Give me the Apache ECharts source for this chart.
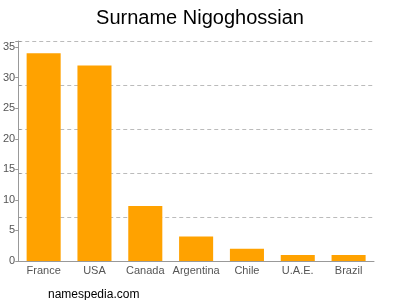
<!DOCTYPE html>
<html><head><meta charset="utf-8">
<script src="https://cdn.jsdelivr.net/npm/echarts@6/dist/echarts.min.js"></script>
<style>html,body{margin:0;padding:0;background:#fff}#c{width:400px;height:300px}</style>
</head><body><div id="c"></div>
<script>
const categories = ["France","USA","Canada","Argentina","Chile","U.A.E.","Brazil"];
const counts = [34,32,9,4,2,1,1];
const titleText = "Surname Nigoghossian";
const footerText = "namespedia.com";

const chart = echarts.init(document.getElementById('c'), null, {renderer:'canvas'});
chart.setOption({
  animation:false,
  title:[
    {text:titleText,left:'center',top:3,textStyle:{fontFamily:'Liberation Sans, Arial',fontSize:20,fontWeight:'normal',color:'#000'}},
    {text:footerText,left:43,top:284,textStyle:{fontFamily:'Liberation Sans, Arial',fontSize:12,fontWeight:'normal',color:'#000'}}
  ],
  grid:{left:18,right:26,top:41,bottom:39},
  xAxis:{type:'category',data:categories,
    axisLine:{lineStyle:{color:'#999'}},axisTick:{show:false},
    axisLabel:{color:'#555',fontFamily:'Liberation Sans, Arial',fontSize:11,margin:4,interval:0}},
  yAxis:[
    {type:'value',min:0,max:36,interval:5,position:'left',
     axisLine:{show:true,lineStyle:{color:'#999'}},
     axisTick:{show:true,length:3,lineStyle:{color:'#999'}},
     splitLine:{show:false},
     axisLabel:{color:'#555',fontFamily:'Liberation Sans, Arial',fontSize:11,margin:3,
       formatter:v=>(v%5===0?String(v):'')}},
    {type:'value',min:0,max:36,interval:7.2,position:'left',
     axisLine:{show:false},axisTick:{show:true,inside:true,length:3,lineStyle:{color:'#999'}},
     axisLabel:{show:false},
     splitLine:{show:true,lineStyle:{color:'#bbb',type:[4,3],width:1}}}
  ],
  series:[{type:'bar',data:counts,yAxisIndex:0,barCategoryGap:'33%',
    itemStyle:{color:'#ffa200'}}]
});
</script></body></html>
